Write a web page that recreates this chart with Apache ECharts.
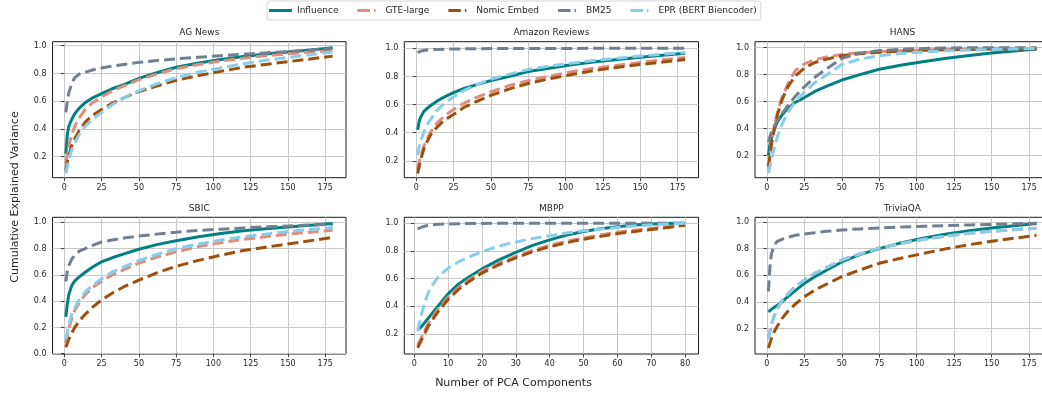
<!DOCTYPE html>
<html>
<head>
<meta charset="utf-8">
<script src="https://cdn.jsdelivr.net/npm/echarts@6/dist/echarts.min.js"></script>
<style>
html,body{margin:0;padding:0;background:#fff;}
#chart{width:1042px;height:393px;}
</style>
</head>
<body>
<div id="chart"></div>
<script>
// ---------- DATA ----------
const seriesNames = ['Influence', 'GTE-large', 'Nomic Embed', 'BM25', 'EPR (BERT Biencoder)'];
const panelTitles = ['AG News', 'Amazon Reviews', 'HANS', 'SBIC', 'MBPP', 'TriviaQA'];

const xsMain = [1, 2, 3, 5, 7, 10, 14, 19, 25, 32, 40, 50, 62, 75, 90, 105, 120, 135, 150, 165, 180];
const xsMBPP = [1, 2, 3, 4, 5, 7, 10, 13, 16, 20, 25, 30, 35, 40, 45, 50, 55, 60, 65, 70, 75, 80];

const xTicksMain = [0, 25, 50, 75, 100, 125, 150, 175];
const xTicksMBPP = [0, 10, 20, 30, 40, 50, 60, 70, 80];
const yTicks = [0.2, 0.4, 0.6, 0.8, 1.0];
const yTicksSBIC = [0.0, 0.2, 0.4, 0.6, 0.8, 1.0];

// AG News
const agInfluence = [0.22, 0.36, 0.42, 0.47, 0.51, 0.55, 0.59, 0.625, 0.655, 0.69, 0.72, 0.765, 0.805, 0.845, 0.875, 0.90, 0.922, 0.94, 0.955, 0.97, 0.985];
const agGTE       = [0.15, 0.22, 0.28, 0.36, 0.42, 0.48, 0.54, 0.59, 0.63, 0.675, 0.71, 0.755, 0.795, 0.835, 0.865, 0.89, 0.91, 0.927, 0.942, 0.954, 0.965];
const agNomic     = [0.10, 0.16, 0.21, 0.28, 0.33, 0.39, 0.45, 0.50, 0.54, 0.585, 0.625, 0.67, 0.71, 0.75, 0.785, 0.815, 0.845, 0.865, 0.885, 0.905, 0.925];
const agBM25      = [0.52, 0.60, 0.66, 0.73, 0.77, 0.795, 0.81, 0.825, 0.84, 0.852, 0.865, 0.88, 0.893, 0.905, 0.917, 0.928, 0.938, 0.948, 0.958, 0.968, 0.98];
const agEPR       = [0.08, 0.13, 0.18, 0.25, 0.30, 0.36, 0.42, 0.47, 0.52, 0.575, 0.625, 0.675, 0.725, 0.77, 0.81, 0.84, 0.87, 0.895, 0.915, 0.935, 0.955];

// Amazon Reviews
const amInfluence = [0.42, 0.48, 0.51, 0.55, 0.57, 0.595, 0.625, 0.655, 0.685, 0.715, 0.74, 0.77, 0.80, 0.835, 0.86, 0.885, 0.905, 0.92, 0.937, 0.95, 0.965];
const amGTE       = [0.14, 0.19, 0.23, 0.30, 0.35, 0.41, 0.47, 0.52, 0.565, 0.61, 0.65, 0.69, 0.735, 0.77, 0.805, 0.835, 0.86, 0.88, 0.90, 0.918, 0.935];
const amNomic     = [0.11, 0.16, 0.21, 0.28, 0.33, 0.39, 0.44, 0.49, 0.53, 0.58, 0.62, 0.665, 0.71, 0.75, 0.785, 0.815, 0.843, 0.865, 0.885, 0.902, 0.92];
const amBM25      = [0.97, 0.975, 0.98, 0.985, 0.988, 0.99, 0.992, 0.994, 0.995, 0.996, 0.997, 0.998, 0.998, 0.999, 0.999, 0.999, 1.0, 1.0, 1.0, 1.0, 1.0];
const amEPR       = [0.24, 0.30, 0.34, 0.40, 0.45, 0.50, 0.56, 0.61, 0.655, 0.70, 0.74, 0.78, 0.815, 0.85, 0.875, 0.895, 0.915, 0.93, 0.945, 0.958, 0.97];

// HANS
const haInfluence = [0.20, 0.28, 0.33, 0.40, 0.45, 0.50, 0.55, 0.595, 0.63, 0.675, 0.715, 0.76, 0.80, 0.84, 0.872, 0.898, 0.922, 0.942, 0.96, 0.975, 0.99];
const haGTE       = [0.10, 0.20, 0.29, 0.42, 0.52, 0.63, 0.73, 0.83, 0.88, 0.91, 0.93, 0.95, 0.962, 0.971, 0.978, 0.983, 0.987, 0.99, 0.992, 0.994, 0.995];
const haNomic     = [0.12, 0.20, 0.28, 0.40, 0.50, 0.61, 0.71, 0.79, 0.85, 0.89, 0.915, 0.94, 0.955, 0.965, 0.975, 0.98, 0.984, 0.987, 0.99, 0.99, 0.99];
const haBM25      = [0.30, 0.34, 0.37, 0.42, 0.46, 0.51, 0.57, 0.64, 0.71, 0.78, 0.845, 0.92, 0.96, 0.978, 0.988, 0.994, 0.997, 0.999, 1.0, 1.0, 1.0];
const haEPR       = [0.07, 0.12, 0.17, 0.26, 0.34, 0.43, 0.52, 0.60, 0.67, 0.74, 0.80, 0.875, 0.915, 0.94, 0.957, 0.968, 0.976, 0.982, 0.986, 0.99, 0.993];

// SBIC
const sbInfluence = [0.28, 0.38, 0.45, 0.52, 0.555, 0.585, 0.62, 0.66, 0.70, 0.73, 0.76, 0.795, 0.83, 0.86, 0.89, 0.915, 0.935, 0.95, 0.965, 0.978, 0.99];
const sbGTE       = [0.08, 0.14, 0.19, 0.27, 0.33, 0.39, 0.45, 0.505, 0.55, 0.60, 0.64, 0.69, 0.735, 0.775, 0.815, 0.845, 0.87, 0.89, 0.91, 0.925, 0.94];
const sbNomic     = [0.05, 0.08, 0.11, 0.16, 0.20, 0.25, 0.30, 0.355, 0.41, 0.46, 0.51, 0.56, 0.615, 0.665, 0.71, 0.75, 0.785, 0.81, 0.835, 0.86, 0.885];
const sbBM25      = [0.55, 0.63, 0.67, 0.72, 0.75, 0.78, 0.80, 0.825, 0.85, 0.865, 0.88, 0.895, 0.91, 0.925, 0.938, 0.948, 0.957, 0.965, 0.972, 0.979, 0.985];
const sbEPR       = [0.11, 0.17, 0.22, 0.30, 0.35, 0.41, 0.47, 0.52, 0.57, 0.62, 0.66, 0.71, 0.755, 0.80, 0.835, 0.865, 0.89, 0.91, 0.93, 0.945, 0.96];

// MBPP
const mbInfluence = [0.23, 0.25, 0.28, 0.31, 0.34, 0.40, 0.49, 0.56, 0.61, 0.67, 0.735, 0.79, 0.84, 0.88, 0.915, 0.94, 0.96, 0.975, 0.987, 0.994, 0.998, 1.0];
const mbGTE       = [0.12, 0.17, 0.22, 0.27, 0.31, 0.38, 0.465, 0.535, 0.59, 0.655, 0.71, 0.76, 0.805, 0.84, 0.87, 0.895, 0.915, 0.935, 0.95, 0.963, 0.976, 0.988];
const mbNomic     = [0.10, 0.15, 0.20, 0.25, 0.29, 0.36, 0.45, 0.52, 0.575, 0.64, 0.70, 0.75, 0.795, 0.83, 0.86, 0.885, 0.905, 0.925, 0.94, 0.955, 0.97, 0.985];
const mbBM25      = [0.96, 0.97, 0.978, 0.984, 0.988, 0.992, 0.995, 0.997, 0.998, 0.999, 1.0, 1.0, 1.0, 1.0, 1.0, 1.0, 1.0, 1.0, 1.0, 1.0, 1.0, 1.0];
const mbEPR       = [0.22, 0.33, 0.42, 0.49, 0.54, 0.61, 0.675, 0.72, 0.755, 0.795, 0.835, 0.865, 0.89, 0.91, 0.93, 0.945, 0.958, 0.97, 0.98, 0.988, 0.995, 1.0];

// TriviaQA
const tqInfluence = [0.325, 0.335, 0.345, 0.36, 0.375, 0.40, 0.44, 0.485, 0.54, 0.59, 0.64, 0.70, 0.755, 0.80, 0.845, 0.88, 0.91, 0.935, 0.955, 0.972, 0.988];
const tqGTE       = [0.12, 0.18, 0.23, 0.30, 0.35, 0.41, 0.46, 0.515, 0.565, 0.615, 0.66, 0.715, 0.76, 0.805, 0.84, 0.87, 0.895, 0.915, 0.93, 0.942, 0.953];
const tqNomic     = [0.055, 0.09, 0.125, 0.18, 0.22, 0.275, 0.33, 0.385, 0.44, 0.49, 0.535, 0.59, 0.64, 0.69, 0.73, 0.765, 0.80, 0.83, 0.855, 0.878, 0.90];
const tqBM25      = [0.48, 0.66, 0.76, 0.83, 0.855, 0.87, 0.885, 0.90, 0.91, 0.92, 0.93, 0.94, 0.948, 0.955, 0.962, 0.968, 0.973, 0.978, 0.982, 0.986, 0.99];
const tqEPR       = [0.12, 0.18, 0.23, 0.30, 0.35, 0.41, 0.46, 0.515, 0.565, 0.615, 0.66, 0.715, 0.76, 0.805, 0.84, 0.87, 0.895, 0.915, 0.93, 0.942, 0.953];

// ---------- PRESENTATION ----------
const colors = ['#008080', '#DD8E7E', '#A04E0C', '#708090', '#87CEEB'];
const FONT = 'DejaVu Sans';

const panels = [
  { xs: xsMain, xt: xTicksMain, yt: yTicks, xr: [-7.95, 188.95], yr: [0.049, 1.029], d: [agInfluence, agGTE, agNomic, agBM25, agEPR] },
  { xs: xsMain, xt: xTicksMain, yt: yTicks, xr: [-7.95, 188.95], yr: [0.080, 1.047], d: [amInfluence, amGTE, amNomic, amBM25, amEPR] },
  { xs: xsMain, xt: xTicksMain, yt: yTicks, xr: [-7.95, 188.95], yr: [0.036, 1.044], d: [haInfluence, haGTE, haNomic, haBM25, haEPR] },
  { xs: xsMain, xt: xTicksMain, yt: yTicksSBIC, xr: [-7.95, 188.95], yr: [-0.002, 1.038], d: [sbInfluence, sbGTE, sbNomic, sbBM25, sbEPR] },
  { xs: xsMBPP, xt: xTicksMBPP, yt: yTicks, xr: [-2.95, 83.95], yr: [0.055, 1.043], d: [mbInfluence, mbGTE, mbNomic, mbBM25, mbEPR] },
  { xs: xsMain, xt: xTicksMain, yt: yTicks, xr: [-7.95, 188.95], yr: [0.010, 1.035], d: [tqInfluence, tqGTE, tqNomic, tqBM25, tqEPR] }
];

const colLeft = [52.5, 404.3, 755];
const colWidth = [293.5, 294.2, 295];
const rowTop = [41.7, 217.3];
const rowHeight = [136, 136.7];

const grids = [], xAxes = [], yAxes = [], series = [], titles = [];
panels.forEach((p, i) => {
  const c = i % 3, r = Math.floor(i / 3);
  grids.push({ left: colLeft[c], top: rowTop[r], width: colWidth[c], height: rowHeight[r],
    outerBoundsMode: 'none', containLabel: false,
    show: true, borderColor: '#1a1a1a', borderWidth: 1, backgroundColor: 'transparent' });
  titles.push({ text: panelTitles[i], left: colLeft[c] + colWidth[c] / 2, top: rowTop[r] - 13.5, textAlign: 'center', padding: 0,
    textStyle: { fontSize: 9, fontWeight: 'normal', color: '#262626', fontFamily: FONT } });
  xAxes.push({ type: 'value', gridIndex: i, min: p.xr[0], max: p.xr[1],
    axisLine: { show: false },
    axisTick: { show: true, inside: false, length: 3.5, lineStyle: { color: '#1a1a1a', width: 0.8 }, customValues: p.xt },
    axisLabel: { show: true, margin: 6, fontSize: 8, color: '#262626', fontFamily: FONT, customValues: p.xt, formatter: v => String(Math.round(v)) },
    splitLine: { show: true, lineStyle: { color: '#c8c8c8', width: 1 } } });
  yAxes.push({ type: 'value', gridIndex: i, min: p.yr[0], max: p.yr[1],
    axisLine: { show: false },
    axisTick: { show: true, inside: false, length: 3.5, lineStyle: { color: '#1a1a1a', width: 0.8 }, customValues: p.yt },
    axisLabel: { show: true, margin: 6, fontSize: 8, color: '#262626', fontFamily: FONT, customValues: p.yt, formatter: v => v.toFixed(1) },
    splitLine: { show: true, lineStyle: { color: '#c8c8c8', width: 1 } } });
  p.d.forEach((vals, k) => {
    series.push({
      name: seriesNames[k], type: 'line', xAxisIndex: i, yAxisIndex: i,
      data: p.xs.map((x, j) => [x, vals[j]]),
      showSymbol: false, symbol: 'none', smooth: false,
      color: colors[k],
      lineStyle: { color: colors[k], width: 3, type: k === 0 ? 'solid' : [11, 5], cap: 'butt', join: 'round' },
      emphasis: { disabled: true }, animation: false, z: 2 + k
    });
  });
});

const solidIcon = 'path://M0,0H23V3H0Z';
const dashIcon = 'path://M0,0H12.5V3H0Z M16.5,0H18V3H16.5Z M23,1.4L23,1.6';
const chart = echarts.init(document.getElementById('chart'), null, { renderer: 'canvas' });
chart.setOption({
  backgroundColor: '#ffffff',
  animation: false,
  title: titles,
  legend: {
    data: seriesNames.map((n, k) => ({ name: n, icon: k === 0 ? solidIcon : dashIcon })),
    left: 267, top: 1, padding: [4, 4, 4, 2],
    itemWidth: 23, itemHeight: 3, itemGap: 19, symbolKeepAspect: false,
    itemStyle: { borderWidth: 0 },
    borderColor: '#d6d6d6', borderWidth: 1, borderRadius: 3,
    textStyle: { fontSize: 9, color: '#262626', fontFamily: FONT, lineHeight: 11 }
  },
  grid: grids, xAxis: xAxes, yAxis: yAxes, series: series,
  graphic: [
    { type: 'text', x: 513.5, y: 383, style: { text: 'Number of PCA Components', fontSize: 11, fontFamily: FONT, fill: '#262626', align: 'center', verticalAlign: 'middle', textAlign: 'center', textVerticalAlign: 'middle' } },
    { type: 'text', x: 15, y: 197, rotation: Math.PI / 2, style: { text: 'Cumulative Explained Variance', fontSize: 11, fontFamily: FONT, fill: '#262626', align: 'center', verticalAlign: 'middle', textAlign: 'center', textVerticalAlign: 'middle' } }
  ]
});
</script>
</body>
</html>
